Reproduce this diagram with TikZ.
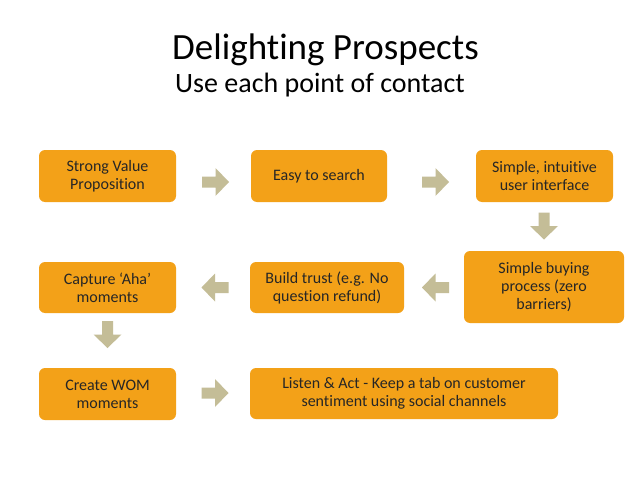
\documentclass[tikz,border=0pt]{standalone}
\usepackage{fontspec}
\setmainfont{Carlito}[Ligatures=NoCommon, RawFeature={-liga;-clig;-dlig}]
\definecolor{boxorange}{RGB}{243,161,24}
\definecolor{arrowtan}{RGB}{196,189,151}
\definecolor{txt}{RGB}{38,38,38}
\tikzset{
  stepbox/.style={fill=boxorange, draw=none, rounded corners=6pt, align=center,
    inner sep=0pt, text=txt, font=\fontsize{16}{18}\selectfont},
  blockarrow/.pic={\fill[arrowtan] (-13.5,-5.5) -- (0,-5.5) -- (0,-14) -- (13.5,0) -- (0,14) -- (0,5.5) -- (-13.5,5.5) -- cycle;}
}
\begin{document}
\begin{tikzpicture}[x=1pt,y=-1pt]
\useasboundingbox (0,0) rectangle (638,479);
\fill[white] (0,0) rectangle (638,479);
\node[anchor=base, font=\fontsize{37}{40}\selectfont, text=black] (title) at (325.5,59) {Delighting Prospects};
\node[anchor=base, font=\fontsize{28}{32}\selectfont, text=black] (subtitle) at (320,92) {Use each point of contact};

\node[stepbox, minimum width=137pt, minimum height=52pt] (svp) at (107.5,176) {Strong Value\\Proposition};
\node[stepbox, minimum width=136pt, minimum height=52pt] (easy) at (319,176) {Easy to search};
\node[stepbox, minimum width=137pt, minimum height=52pt] (ui) at (544.5,176) {Simple, intuitive\\user interface};
\node[stepbox, minimum width=160pt, minimum height=72pt] (buy) at (544,287) {Simple buying\\process (zero\\barriers)};
\node[stepbox, minimum width=154pt, minimum height=51pt] (trust) at (327,287.5) {Build trust (e.g. No\\question refund)};
\node[stepbox, minimum width=137pt, minimum height=51pt] (aha) at (107.5,287.5) {Capture `Aha'\\moments};
\node[stepbox, minimum width=137pt, minimum height=52pt] (wom) at (107.5,394) {Create WOM\\moments};
\node[stepbox, minimum width=308pt, minimum height=51pt] (listen) at (404,393.5) {Listen \& Act - Keep a tab on customer\\sentiment using social channels};

\pic at (215.5,182) {blockarrow};
\pic at (435.5,182) {blockarrow};
\pic[rotate=-90] at (544,226) {blockarrow};
\pic[rotate=180] at (435.5,287.5) {blockarrow};
\pic[rotate=180] at (215,287.5) {blockarrow};
\pic[rotate=-90] at (107.5,334.5) {blockarrow};
\pic at (215,393) {blockarrow};
\end{tikzpicture}
\end{document}
